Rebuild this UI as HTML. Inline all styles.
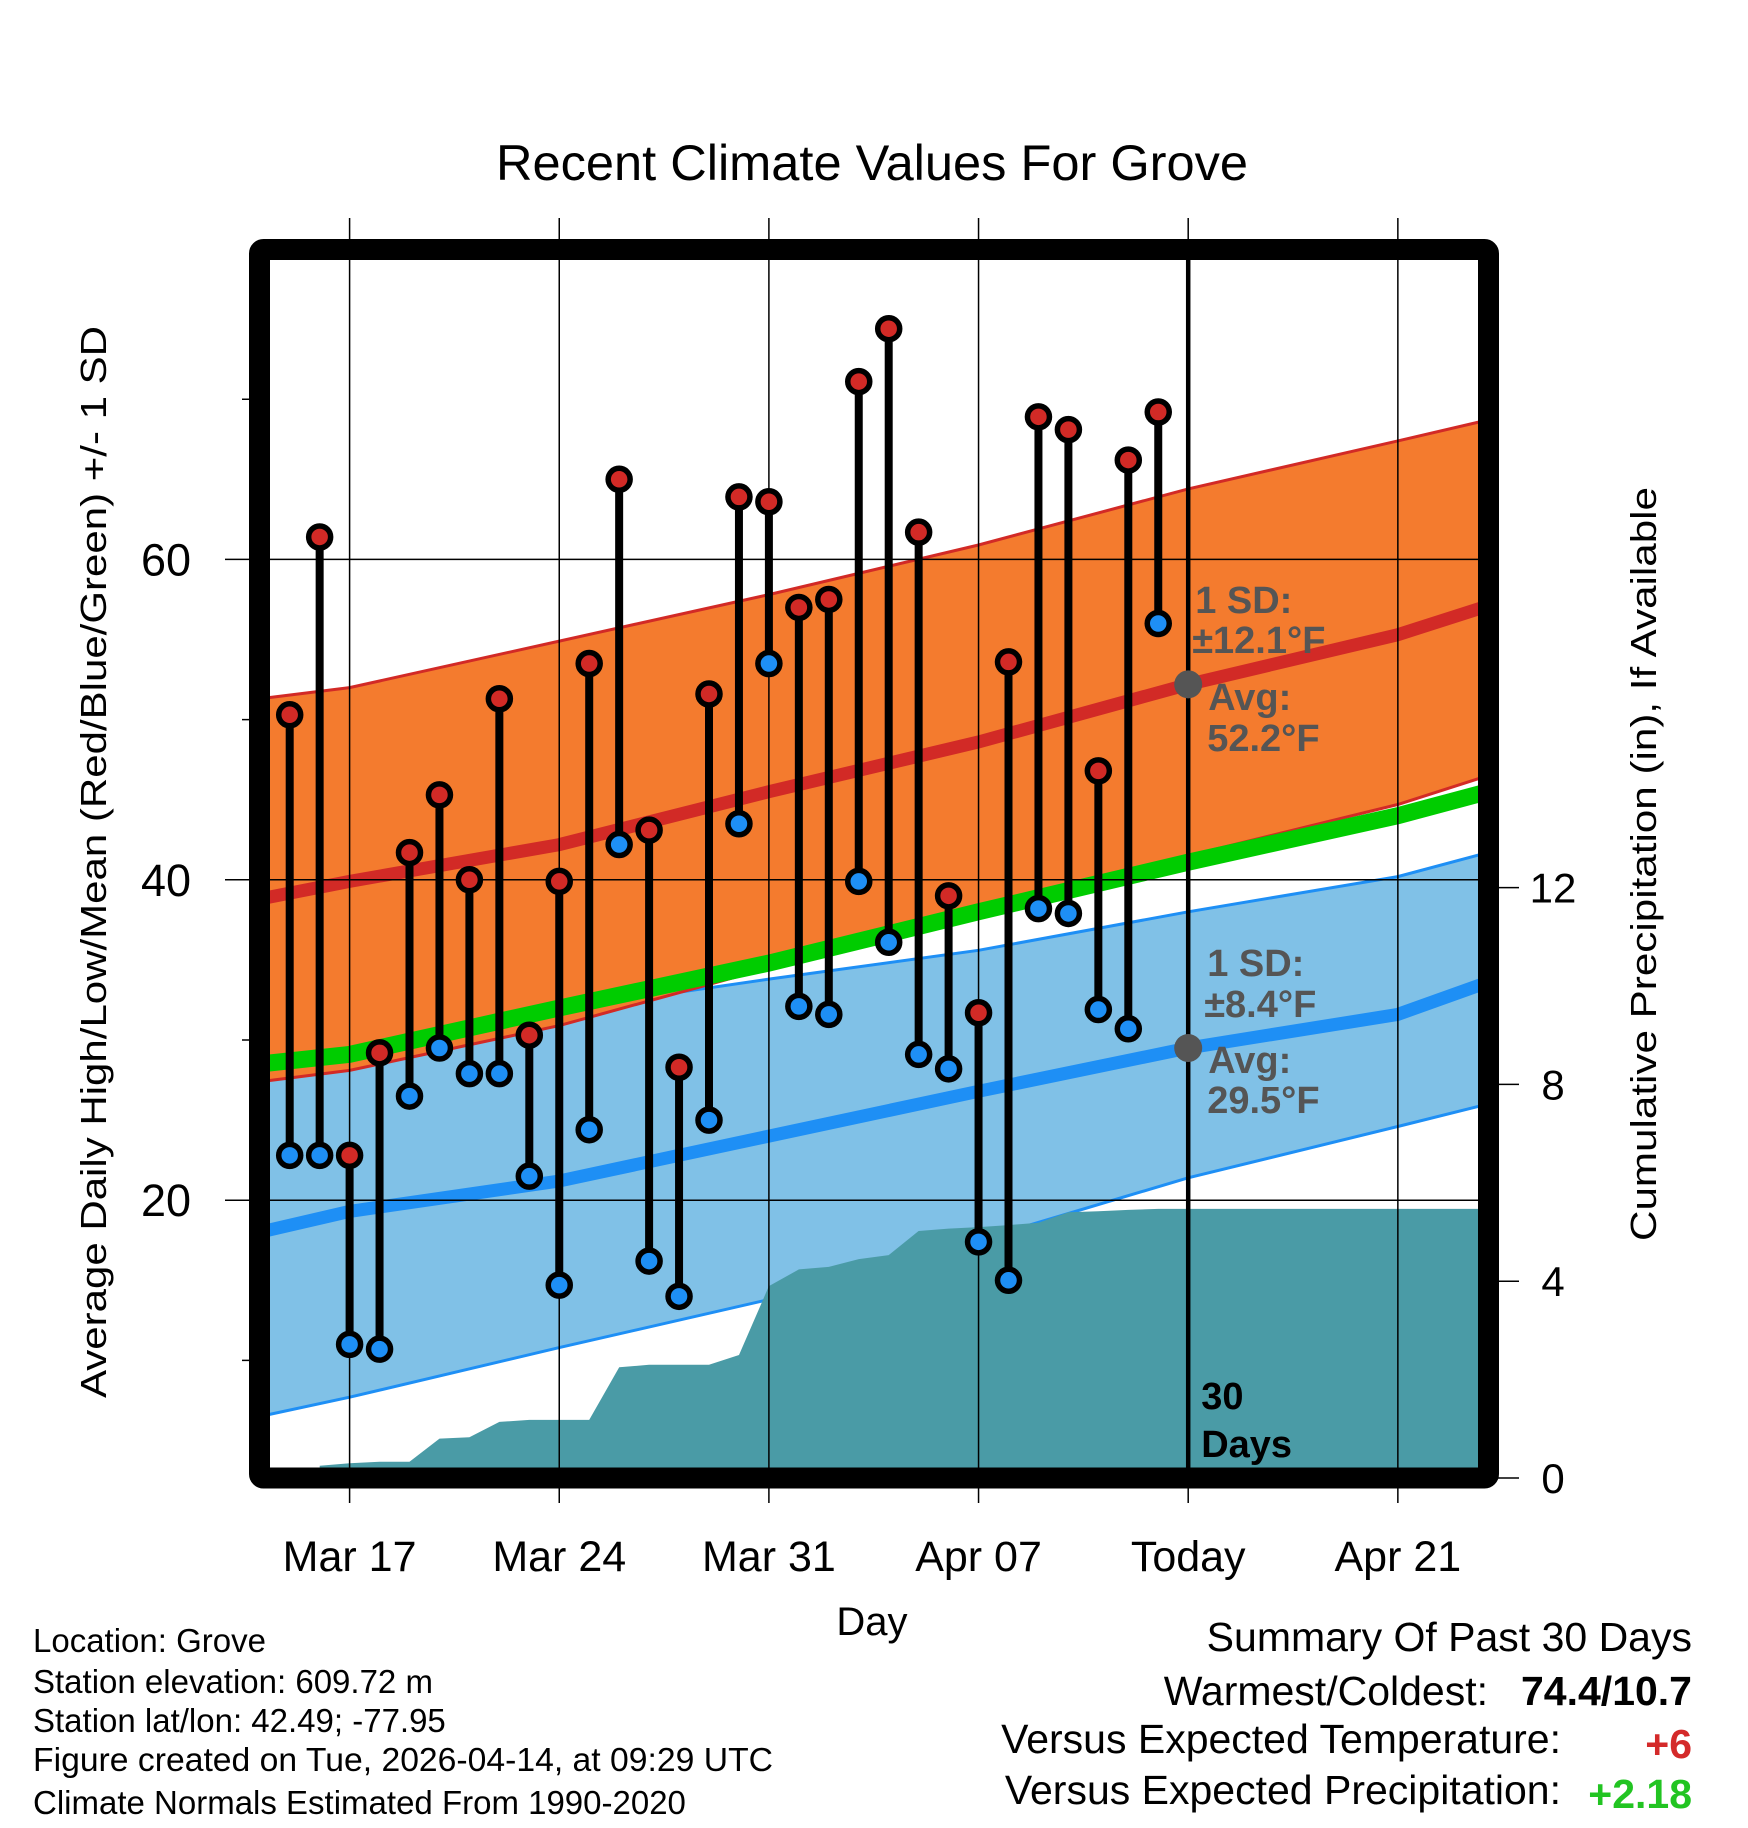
<!DOCTYPE html>
<html><head><meta charset="utf-8"><style>
html,body{margin:0;padding:0;background:#fff;}
svg{display:block;font-family:"Liberation Sans",Arial,sans-serif;}
</style></head><body>
<svg id="chart" width="1748" height="1828" viewBox="0 0 1748 1828" xmlns="http://www.w3.org/2000/svg">
<text x="872" y="180" font-size="50" text-anchor="middle" textLength="752" lengthAdjust="spacingAndGlyphs">Recent Climate Values For Grove</text>
<g id="plot"></g>
<text transform="translate(106,862) rotate(-90)" font-size="36" text-anchor="middle" textLength="1072" lengthAdjust="spacingAndGlyphs">Average Daily High/Low/Mean (Red/Blue/Green) +/- 1 SD</text>
<text transform="translate(1656,864) rotate(-90)" font-size="36" text-anchor="middle" textLength="754" lengthAdjust="spacingAndGlyphs">Cumulative Precipitation (in), If Available</text>
<text x="872" y="1635" font-size="40" text-anchor="middle">Day</text>
<g font-size="33">
<text x="33" y="1652">Location: Grove</text>
<text x="33" y="1693">Station elevation: 609.72 m</text>
<text x="33" y="1732">Station lat/lon: 42.49; -77.95</text>
<text x="33" y="1771" textLength="740" lengthAdjust="spacingAndGlyphs">Figure created on Tue, 2026-04-14, at 09:29 UTC</text>
<text x="33" y="1814">Climate Normals Estimated From 1990-2020</text>
</g>
<g font-size="41" text-anchor="end">
<text x="1692" y="1651">Summary Of Past 30 Days</text>
<text x="1488" y="1705">Warmest/Coldest:</text>
<text x="1692" y="1705" font-weight="bold">74.4/10.7</text>
<text x="1561" y="1753">Versus Expected Temperature:</text>
<text x="1692" y="1758" font-weight="bold" fill="#d42a2a">+6</text>
<text x="1561" y="1804">Versus Expected Precipitation:</text>
<text x="1692" y="1808" font-weight="bold" fill="#22c422">+2.18</text>
</g>
</svg>
<script>
// Day index: 0 = Mar 14
const highs=[50.3,61.4,22.8,29.2,41.7,45.3,40.0,51.3,30.3,39.9,53.5,65.0,43.1,28.3,51.6,63.9,63.6,57.0,57.5,71.1,74.4,61.7,39.0,31.7,53.6,68.9,68.1,46.8,66.2,69.2];
const lows=[22.8,22.8,11.0,10.7,26.5,29.5,27.9,27.9,21.5,14.7,24.4,42.2,16.2,14.0,25.0,43.5,53.5,32.1,31.6,39.9,36.1,29.1,28.2,17.4,15.0,38.2,37.9,31.9,30.7,56.0];
const obsStart=1; // Mar 15
const normDays=[0,3,10,17,24,31,38,41];
const normHigh=[38.8,39.9,42.2,45.5,48.6,52.2,55.3,57.1];
const highUpper=[51.3,52.0,54.9,57.8,60.9,64.4,67.4,68.7];
const highLower=[27.4,28.1,30.9,34.5,38.0,41.5,44.7,46.5];
const normMean=[28.5,29.1,32.0,34.8,38.0,41.1,44.0,45.5];
const normLow=[18.0,19.3,21.2,24.0,26.8,29.5,31.6,33.6];
const lowUpper=[29.6,30.3,31.9,33.8,35.6,38.0,40.2,41.7];
const lowLower=[6.5,7.7,10.8,13.8,17.5,21.4,24.6,26.0];
const precipDays=[2,3,4,5,6,7,8,9,10,11,12,13,14,15,16,17,18,19,20,21,22,23,24,25,26,27,28,29,30,31,41];
const precip=[0.25,0.3,0.33,0.33,0.8,0.83,1.14,1.18,1.18,1.18,2.25,2.3,2.3,2.3,2.5,3.9,4.24,4.29,4.45,4.53,5.02,5.07,5.1,5.14,5.19,5.4,5.42,5.45,5.47,5.47,5.47];
const xTickDays=[3,10,17,24,31,38];
const xTickLabels=["Mar 17","Mar 24","Mar 31","Apr 07","Today","Apr 21"];
const yTicks=[20,40,60];
const yMinor=[10,30,50,70];
const y2Ticks=[0,4,8,12];
const todayDay=31;
const todayHighSD="±12.1°F", todayHighAvg="52.2°F", todayLowSD="±8.4°F", todayLowAvg="29.5°F";

const X=d=>349.6+(d-3)*29.95;
const Y=t=>1200.2-(t-20)*16.02;
const YP=p=>1478-p*49.2;
const L=259.5,R=1488.5,T=249.5,B=1478;
const NS="http://www.w3.org/2000/svg";
const plot=document.getElementById('plot');
function mk(tag,attrs,parent){const e=document.createElementNS(NS,tag);for(const k in attrs)e.setAttribute(k,attrs[k]);(parent||plot).appendChild(e);return e;}
const defs=mk('defs',{});
const cp=mk('clipPath',{id:'clip'},defs);
mk('rect',{x:L,y:T,width:R-L,height:B-T},cp);
const g=mk('g',{'clip-path':'url(#clip)'});
function pts(days,vals,yf){return days.map((d,i)=>X(d).toFixed(1)+','+yf(vals[i]).toFixed(1));}
function band(up,lo,fill,stroke,name){
  const p=pts(normDays,up,Y).concat(pts(normDays,lo,Y).reverse());
  const e=mk('polygon',{points:p.join(' '),fill:fill,stroke:'none'},g);
  
  
  const a=mk('polyline',{points:pts(normDays,up,Y).join(' '),fill:'none',stroke:stroke,'stroke-width':3},g);
  
  
  const b=mk('polyline',{points:pts(normDays,lo,Y).join(' '),fill:'none',stroke:stroke,'stroke-width':3},g);
  
  
}
band(lowUpper,lowLower,'#80c1e7','#1e8ff5','low-sd-band');
band(highUpper,highLower,'#f47b2e','#d22a26','high-sd-band');
function line(vals,color,w,name){
  const e=mk('polyline',{points:pts(normDays,vals,Y).join(' '),fill:'none',stroke:color,'stroke-width':w},g);
  
  
}
line(normMean,'#00cc00',17,'normal-mean-line');
line(normHigh,'#d22a26',13,'normal-high-line');
line(normLow,'#1e8ff5',13,'normal-low-line');
{
  const p=[X(precipDays[0]).toFixed(1)+','+(B+20)].concat(pts(precipDays,precip,YP));
  p.push(X(precipDays[precipDays.length-1]).toFixed(1)+','+(B+20));
  const e=mk('polygon',{points:p.join(' '),fill:'#4a9ba6'},g);
  
  
}
yTicks.forEach(t=>{
  const e=mk('line',{x1:225,x2:R,y1:Y(t),y2:Y(t),stroke:'#000','stroke-width':1.5});
  
  
  const tx=mk('text',{x:166,y:Y(t)+16,'font-size':45,'text-anchor':'middle'});
  tx.textContent=t;
  
  
});
yMinor.forEach(t=>{
  const e=mk('line',{x1:242,x2:L,y1:Y(t),y2:Y(t),stroke:'#000','stroke-width':1.5});
  
  
});
y2Ticks.forEach(p=>{
  const e=mk('line',{x1:R,x2:1519,y1:YP(p),y2:YP(p),stroke:'#000','stroke-width':1.5});
  
  
  const tx=mk('text',{x:1553,y:YP(p)+15,'font-size':42,'text-anchor':'middle'});
  tx.textContent=p;
  
  
});
xTickDays.forEach((d,i)=>{
  const e=mk('line',{x1:X(d),x2:X(d),y1:218,y2:1503,stroke:'#000','stroke-width':1.5});
  
  
  const tx=mk('text',{x:X(d),y:1571,'font-size':43,'text-anchor':'middle'});
  tx.textContent=xTickLabels[i];
  
  
});
{
  const e=mk('line',{x1:X(todayDay),x2:X(todayDay),y1:T,y2:B,stroke:'#000','stroke-width':4.5});
  
  
}
highs.forEach((h,i)=>{
  const d=obsStart+i;
  const s=mk('line',{x1:X(d),x2:X(d),y1:Y(h),y2:Y(lows[i]),stroke:'#000','stroke-width':8});
  
  
});
highs.forEach((h,i)=>{
  const d=obsStart+i;
  const c1=mk('circle',{cx:X(d),cy:Y(h),r:11,fill:'#d22a26',stroke:'#000','stroke-width':5.5});
  
  
  const c2=mk('circle',{cx:X(d),cy:Y(lows[i]),r:11,fill:'#1e8ff5',stroke:'#000','stroke-width':5.5});
  
  
});
function interp(vals,d){for(let i=0;i<normDays.length-1;i++){if(d>=normDays[i]&&d<=normDays[i+1]){const f=(d-normDays[i])/(normDays[i+1]-normDays[i]);return vals[i]+f*(vals[i+1]-vals[i]);}}return vals[vals.length-1];}
[[normHigh,'today-high-avg-dot'],[normLow,'today-low-avg-dot']].forEach(([v,n])=>{
  const c=mk('circle',{cx:X(todayDay),cy:Y(interp(v,todayDay)),r:14,fill:'#555'});
  
  
});
function lab(txt,x,y,fill,name){
  const t=mk('text',{x:x,y:y,'font-size':38,'font-weight':'bold',fill:fill});
  t.textContent=txt;
  
  
}
const tx=X(todayDay);
lab('1 SD:',tx+7,613,'#555','high-sd-label');
lab(todayHighSD,tx+4,653,'#555','high-sd-value');
lab('Avg:',tx+20,710,'#555','high-avg-label');
lab(todayHighAvg,tx+19,751,'#555','high-avg-value');
lab('1 SD:',tx+19,976,'#555','low-sd-label');
lab(todayLowSD,tx+16,1017,'#555','low-sd-value');
lab('Avg:',tx+20,1073,'#555','low-avg-label');
lab(todayLowAvg,tx+19,1113,'#555','low-avg-value');
lab('30',tx+13,1409,'#000','days-count');
lab('Days',tx+13,1457,'#000','days-label');
{
  const f=mk('rect',{x:L,y:T,width:R-L,height:B-T,fill:'none',stroke:'#000','stroke-width':21,rx:4});
  
  
}
</script>
</body></html>
